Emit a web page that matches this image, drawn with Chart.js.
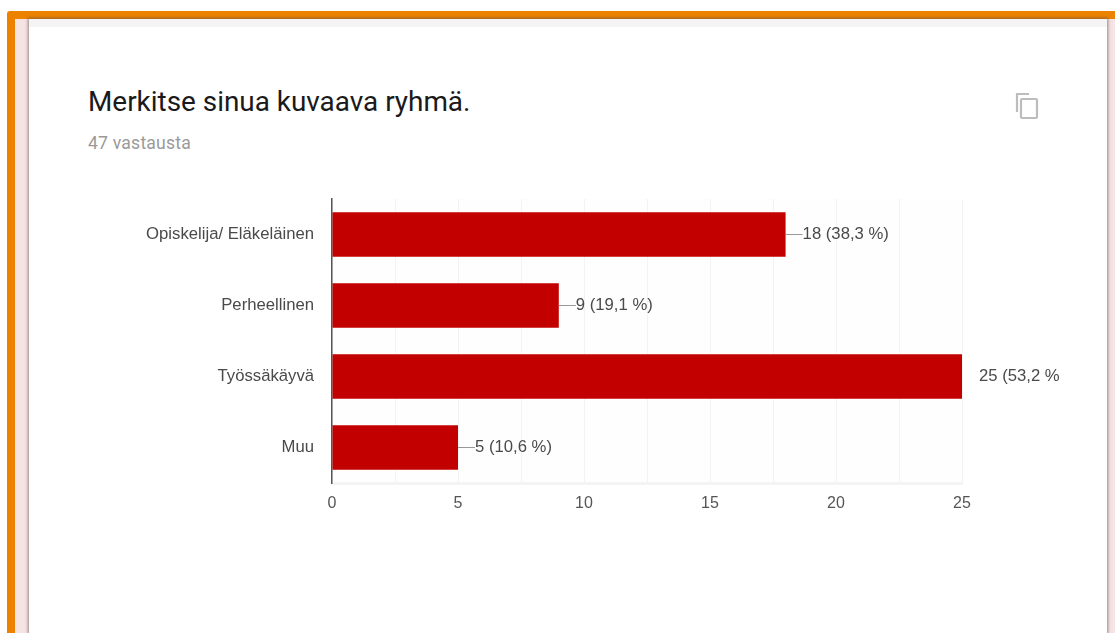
<!DOCTYPE html>
<html lang="fi">
<head>
<meta charset="utf-8">
<script src="https://cdn.jsdelivr.net/npm/chart.js@4"></script>
<style>
html,body{margin:0;padding:0;background:#fff;width:1115px;height:633px;overflow:hidden}
#all{position:absolute;left:0;top:0;width:1115px;height:633px;filter:blur(.35px)}
#frame{position:absolute;left:7px;top:11px;width:1108px;height:622px;background:#ec8200;border-radius:3px 0 0 0}
#pink{position:absolute;left:15px;top:19px;width:1100px;height:614px;background:#f6e4e4}
#card{position:absolute;left:29px;top:19px;width:1078px;height:614px;background:#fff;box-shadow:0 0 3px 1px rgba(90,70,70,.6)}
#strip{position:absolute;left:29px;top:19px;width:1078px;height:8px;background:#f4f4f4}
#title{position:absolute;left:88px;top:84px;font:27.9px/36px Roboto,sans-serif;color:#1a1a1a;white-space:nowrap}
#sub{position:absolute;left:88px;top:133px;font:17.6px/20px Roboto,sans-serif;color:#9a9a9a;white-space:nowrap;letter-spacing:.2px}
#icon{position:absolute;left:1015px;top:92px}
canvas{position:absolute;left:0;top:0}
</style>
</head>
<body>
<div id="all">
<div id="frame"></div><div id="pink"></div><div id="card"></div><div id="strip"></div>
<div id="title">Merkitse sinua kuvaava ryhmä.</div>
<div id="sub">47 vastausta</div>
<svg id="icon" width="26" height="28" viewBox="0 0 26 28" fill="none" stroke="#bdbdbd" stroke-width="2.2">
<path d="M2 20V2H14"/><rect x="6" y="7" width="16" height="19" rx="1"/>
</svg>
<canvas id="c" width="1115" height="633"></canvas>
</div>
<script>
const categories = ["Opiskelija/ Eläkeläinen", "Perheellinen", "Työssäkäyvä", "Muu"];
const values = [18, 9, 25, 5];
const valueLabels = ["18 (38,3 %)", "9 (19,1 %)", "25 (53,2 %", "5 (10,6 %)"];
const showLeader = [true, true, false, true];

const labelFont = '16.7px "Liberation Sans", Arial, sans-serif';

const plotBg = {
  id: 'plotBg',
  beforeDraw(chart) {
    const {ctx, chartArea: a} = chart;
    ctx.save();
    ctx.fillStyle = '#fefefe';
    ctx.fillRect(a.left, a.top, a.width, a.height);
    ctx.restore();
  }
};

const valueLabelPlugin = {
  id: 'valueLabels',
  afterDatasetsDraw(chart) {
    const {ctx} = chart;
    const bars = chart.getDatasetMeta(0).data;
    ctx.save();
    ctx.font = labelFont;
    ctx.textBaseline = 'middle';
    ctx.textAlign = 'left';
    bars.forEach((bar, i) => {
      if (showLeader[i]) {
        ctx.strokeStyle = '#999';
        ctx.lineWidth = 1;
        ctx.beginPath();
        ctx.moveTo(bar.x, Math.round(bar.y) - 0.5);
        ctx.lineTo(bar.x + 17, Math.round(bar.y) - 0.5);
        ctx.stroke();
      }
      ctx.fillStyle = '#4a4a4a';
      ctx.fillText(valueLabels[i], bar.x + 17, bar.y);
    });
    ctx.restore();
  }
};

new Chart(document.getElementById('c'), {
  type: 'bar',
  data: {
    labels: categories,
    datasets: [{
      data: values,
      backgroundColor: '#c30000',
      borderWidth: 0,
      categoryPercentage: 1,
      barPercentage: 0.625
    }]
  },
  plugins: [plotBg, valueLabelPlugin],
  options: {
    indexAxis: 'y',
    responsive: false,
    animation: false,
    events: [],
    layout: {padding: {left: 0, top: 199, right: 153, bottom: 0}},
    plugins: {legend: {display: false}, tooltip: {enabled: false}, title: {display: false}},
    scales: {
      x: {
        min: 0, max: 25,
        afterFit(s) { s.height = 150; },
        ticks: {
          stepSize: 2.5,
          autoSkip: false,
          maxRotation: 0,
          padding: 11,
          color: '#555',
          font: {family: '"Liberation Sans", Arial, sans-serif', size: 16},
          callback: v => (v % 5 === 0 ? String(v) : '')
        },
        grid: {color: '#f3f3f3', lineWidth: 1, drawTicks: false},
        border: {color: '#f4f4f4', width: 3}
      },
      y: {
        afterFit(s) { s.width = 332; },
        ticks: {
          padding: 18,
          color: '#4a4a4a',
          font: {family: '"Liberation Sans", Arial, sans-serif', size: 16.7}
        },
        grid: {display: false, drawTicks: false},
        border: {color: '#555', width: 1.5}
      }
    }
  }
});
</script>
</body>
</html>
